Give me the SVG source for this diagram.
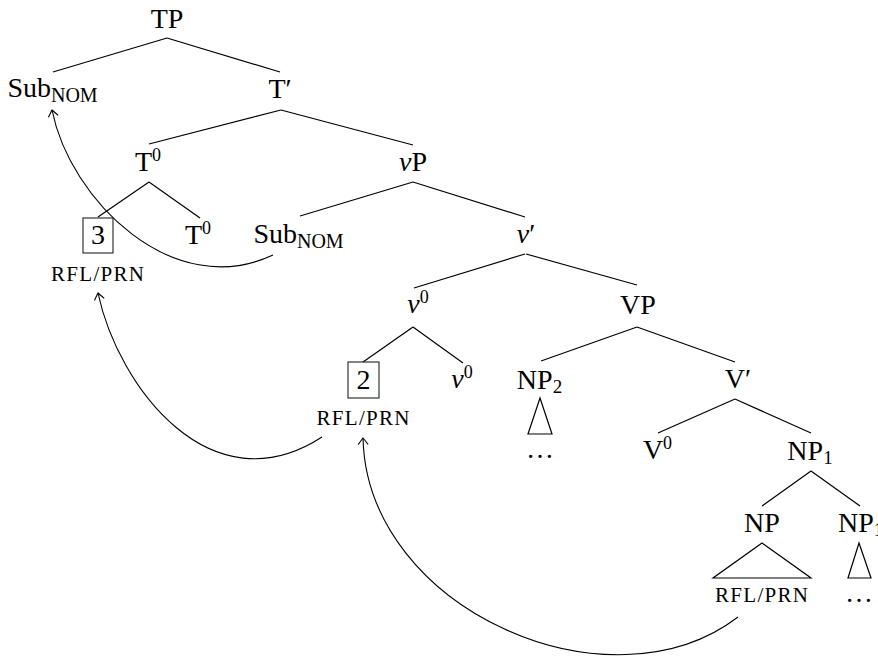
<svg xmlns="http://www.w3.org/2000/svg" width="878" height="660" viewBox="0 0 878 660">
<style>
text{font-family:"Liberation Serif","Times New Roman",serif;fill:#000;}
.n{font-size:28px;text-anchor:middle;}
.s{font-size:21px;text-anchor:middle;}
.it{font-style:italic;}
.e{stroke:#000;stroke-width:1.2;fill:none;}
.box{stroke:#222;stroke-width:1.1;fill:none;}
.arc{stroke:#000;stroke-width:1.1;fill:none;marker-end:url(#to);}
.tri{stroke:#000;stroke-width:1.2;fill:none;}
</style>
<defs>
<marker id="to" viewBox="-9 -7 11 14" markerWidth="11" markerHeight="14" refX="0" refY="0" orient="auto" markerUnits="userSpaceOnUse" overflow="visible">
<path d="M -6.5 -5 Q -1.5 -1.2 0 0 Q -1.5 1.2 -6.5 5" stroke="#000" stroke-width="1.1" fill="none"/>
</marker>
</defs>
<g id="edges">
<line class="e" x1="167" y1="38" x2="53" y2="72"/>
<line class="e" x1="167" y1="38" x2="280" y2="72"/>
<line class="e" x1="281" y1="110" x2="149" y2="144"/>
<line class="e" x1="281" y1="110" x2="413" y2="145"/>
<line class="e" x1="149" y1="182" x2="98" y2="217"/>
<line class="e" x1="149" y1="182" x2="200" y2="218"/>
<line class="e" x1="413" y1="182" x2="300" y2="216"/>
<line class="e" x1="413" y1="182" x2="525" y2="217"/>
<line class="e" x1="525" y1="254" x2="414" y2="288"/>
<line class="e" x1="526" y1="254" x2="637" y2="285"/>
<line class="e" x1="413" y1="327" x2="363" y2="362"/>
<line class="e" x1="413" y1="327" x2="463" y2="363"/>
<line class="e" x1="637" y1="327" x2="541" y2="361"/>
<line class="e" x1="637" y1="327" x2="735" y2="362"/>
<line class="e" x1="735" y1="399" x2="658" y2="433"/>
<line class="e" x1="735" y1="399" x2="811" y2="433"/>
<line class="e" x1="811" y1="471" x2="762" y2="506"/>
<line class="e" x1="811" y1="471" x2="860" y2="506"/>
<path class="arc" d="M 273 255 C 173 302, 70 200, 52 110"/>
<path class="arc" d="M 322 437 C 211 509, 118 387, 98 293"/>
<path class="arc" d="M 738 617 C 610 715, 367 610, 363 438"/>
</g>
<g id="TP"><text class="n" x="167" y="28">TP</text></g>
<g id="SubNOM1"><text class="n" x="52.5" y="97">Sub<tspan font-size="20" dy="5">NOM</tspan></text></g>
<g id="Tbar"><text class="n" x="280" y="98">T′</text></g>
<g id="T0"><text class="n" x="148" y="171">T<tspan font-size="18" dy="-10">0</tspan></text></g>
<g id="vP"><text class="n" x="413" y="171"><tspan class="it">ν</tspan>P</text></g>
<g id="box3"><rect class="box" x="83" y="218" width="30" height="35"/><text class="n" x="98" y="244">3</text><text class="s" x="97.5" y="281" textLength="93" lengthAdjust="spacing">RFL/PRN</text></g>
<g id="T0b"><text class="n" x="198" y="244">T<tspan font-size="18" dy="-10">0</tspan></text></g>
<g id="SubNOM2"><text class="n" x="298.5" y="243">Sub<tspan font-size="20" dy="5">NOM</tspan></text></g>
<g id="vbar"><text class="n" x="526" y="243"><tspan class="it">ν</tspan>′</text></g>
<g id="v0"><text class="n" x="418" y="313"><tspan class="it">ν</tspan><tspan font-size="18" dy="-10">0</tspan></text></g>
<g id="VP"><text class="n" x="638" y="314">VP</text></g>
<g id="box2"><rect class="box" x="348" y="362" width="31" height="36"/><text class="n" x="363.5" y="389">2</text><text class="s" x="363" y="425" textLength="93" lengthAdjust="spacing">RFL/PRN</text></g>
<g id="v0b"><text class="n" x="462" y="388"><tspan class="it">ν</tspan><tspan font-size="18" dy="-10">0</tspan></text></g>
<g id="NP2"><text class="n" x="539.5" y="389">NP<tspan font-size="19" dy="4">2</tspan></text><polygon class="tri" points="540,398 528,434 552,434"/><text class="n" x="540" y="458">…</text></g>
<g id="Vbar"><text class="n" x="738" y="388">V′</text></g>
<g id="V0"><text class="n" x="657.5" y="459">V<tspan font-size="18" dy="-10">0</tspan></text></g>
<g id="NP1"><text class="n" x="810" y="460">NP<tspan font-size="19" dy="4">1</tspan></text></g>
<g id="NP"><text class="n" x="762" y="532">NP</text><polygon class="tri" points="762,543 713,578 811,578"/><text class="s" x="761.5" y="602" textLength="93" lengthAdjust="spacing">RFL/PRN</text></g>
<g id="NP1b"><text x="838" y="532" font-size="28">NP<tspan font-size="19" dy="4">1</tspan></text><polygon class="tri" points="859,543 848,578 871,578"/><text class="n" x="859" y="602">…</text></g>
</svg>
